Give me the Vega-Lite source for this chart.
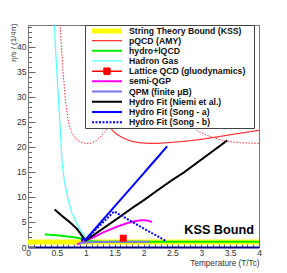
{
  "$schema": "https://vega.github.io/schema/vega-lite/v6.json",
  "width": 231,
  "height": 222,
  "autosize": {"type": "none"},
  "padding": {"left": 28, "top": 25, "right": 28, "bottom": 26},
  "background": "white",
  "config": {
    "view": {"stroke": "#777777", "strokeWidth": 1},
    "font": "Liberation Sans"
  },
  "datasets": {
    "curves": [
      {"series": "String Theory Bound (KSS)", "x": 0, "y": 1},
      {"series": "String Theory Bound (KSS)", "x": 4, "y": 1},

      {"series": "pQCD (AMY)", "x": 1.1, "y": 40},
      {"series": "pQCD (AMY)", "x": 1.2, "y": 33},
      {"series": "pQCD (AMY)", "x": 1.3, "y": 28},
      {"series": "pQCD (AMY)", "x": 1.4, "y": 24.5},
      {"series": "pQCD (AMY)", "x": 1.46, "y": 23.3},
      {"series": "pQCD (AMY)", "x": 1.55, "y": 22.4},
      {"series": "pQCD (AMY)", "x": 1.66, "y": 21.7},
      {"series": "pQCD (AMY)", "x": 1.8, "y": 21.1},
      {"series": "pQCD (AMY)", "x": 1.95, "y": 20.8},
      {"series": "pQCD (AMY)", "x": 2.1, "y": 20.7},
      {"series": "pQCD (AMY)", "x": 2.24, "y": 20.7},
      {"series": "pQCD (AMY)", "x": 2.5, "y": 20.9},
      {"series": "pQCD (AMY)", "x": 2.7, "y": 21.1},
      {"series": "pQCD (AMY)", "x": 3.0, "y": 21.5},
      {"series": "pQCD (AMY)", "x": 3.28, "y": 22},
      {"series": "pQCD (AMY)", "x": 3.6, "y": 22.6},
      {"series": "pQCD (AMY)", "x": 4.0, "y": 23.3},

      {"series": "hydro+lQCD", "x": 0.29, "y": 2.5},
      {"series": "hydro+lQCD", "x": 0.5, "y": 2.35},
      {"series": "hydro+lQCD", "x": 0.68, "y": 2.1},
      {"series": "hydro+lQCD", "x": 0.8, "y": 1.95},
      {"series": "hydro+lQCD", "x": 0.91, "y": 1.7},
      {"series": "hydro+lQCD", "x": 1.0, "y": 1.3},
      {"series": "hydro+lQCD", "x": 1.08, "y": 1.15},
      {"series": "hydro+lQCD", "x": 1.32, "y": 1.05},
      {"series": "hydro+lQCD", "x": 2.0, "y": 1.05},
      {"series": "hydro+lQCD", "x": 3.0, "y": 1.05},
      {"series": "hydro+lQCD", "x": 4.0, "y": 1.05},

      {"series": "Hadron Gas", "x": 0.455, "y": 46},
      {"series": "Hadron Gas", "x": 0.47, "y": 41},
      {"series": "Hadron Gas", "x": 0.49, "y": 37},
      {"series": "Hadron Gas", "x": 0.51, "y": 33},
      {"series": "Hadron Gas", "x": 0.535, "y": 28},
      {"series": "Hadron Gas", "x": 0.56, "y": 23.3},
      {"series": "Hadron Gas", "x": 0.59, "y": 17},
      {"series": "Hadron Gas", "x": 0.63, "y": 13.2},
      {"series": "Hadron Gas", "x": 0.7, "y": 9.2},
      {"series": "Hadron Gas", "x": 0.76, "y": 6.8},
      {"series": "Hadron Gas", "x": 0.83, "y": 5.1},
      {"series": "Hadron Gas", "x": 0.88, "y": 3.9},
      {"series": "Hadron Gas", "x": 0.94, "y": 2.8},
      {"series": "Hadron Gas", "x": 1.0, "y": 1.9},

      {"series": "semi-QGP", "x": 0.85, "y": 0.5},
      {"series": "semi-QGP", "x": 0.93, "y": 0.9},
      {"series": "semi-QGP", "x": 1.02, "y": 1.4},
      {"series": "semi-QGP", "x": 1.15, "y": 2.0},
      {"series": "semi-QGP", "x": 1.26, "y": 2.7},
      {"series": "semi-QGP", "x": 1.4, "y": 3.4},
      {"series": "semi-QGP", "x": 1.55, "y": 4.1},
      {"series": "semi-QGP", "x": 1.7, "y": 4.7},
      {"series": "semi-QGP", "x": 1.83, "y": 5.1},
      {"series": "semi-QGP", "x": 1.95, "y": 5.35},
      {"series": "semi-QGP", "x": 2.0, "y": 5.35},
      {"series": "semi-QGP", "x": 2.08, "y": 5.25},
      {"series": "semi-QGP", "x": 2.15, "y": 5.0},

      {"series": "QPM (finite μB)", "x": 0.9, "y": 0.8},
      {"series": "QPM (finite μB)", "x": 1.0, "y": 0.9},
      {"series": "QPM (finite μB)", "x": 1.2, "y": 1.0},
      {"series": "QPM (finite μB)", "x": 1.6, "y": 1.05},
      {"series": "QPM (finite μB)", "x": 2.1, "y": 1.05},

      {"series": "Hydro Fit (Niemi et al.)", "x": 0.46, "y": 7.5},
      {"series": "Hydro Fit (Niemi et al.)", "x": 0.6, "y": 6.1},
      {"series": "Hydro Fit (Niemi et al.)", "x": 0.73, "y": 4.9},
      {"series": "Hydro Fit (Niemi et al.)", "x": 0.85, "y": 3.6},
      {"series": "Hydro Fit (Niemi et al.)", "x": 0.95, "y": 2.0},
      {"series": "Hydro Fit (Niemi et al.)", "x": 1.0, "y": 1.3},
      {"series": "Hydro Fit (Niemi et al.)", "x": 1.1, "y": 2.1},
      {"series": "Hydro Fit (Niemi et al.)", "x": 1.3, "y": 3.7},
      {"series": "Hydro Fit (Niemi et al.)", "x": 1.55, "y": 5.7},
      {"series": "Hydro Fit (Niemi et al.)", "x": 1.83, "y": 8.0},
      {"series": "Hydro Fit (Niemi et al.)", "x": 2.0, "y": 9.3},
      {"series": "Hydro Fit (Niemi et al.)", "x": 2.24, "y": 11.3},
      {"series": "Hydro Fit (Niemi et al.)", "x": 2.5, "y": 13.4},
      {"series": "Hydro Fit (Niemi et al.)", "x": 2.7, "y": 14.9},
      {"series": "Hydro Fit (Niemi et al.)", "x": 2.9, "y": 16.6},
      {"series": "Hydro Fit (Niemi et al.)", "x": 3.1, "y": 18.3},
      {"series": "Hydro Fit (Niemi et al.)", "x": 3.3, "y": 20.0},
      {"series": "Hydro Fit (Niemi et al.)", "x": 3.45, "y": 21.3},

      {"series": "Hydro Fit (Song - a)", "x": 0.92, "y": 1.7},
      {"series": "Hydro Fit (Song - a)", "x": 1.0, "y": 1.5},
      {"series": "Hydro Fit (Song - a)", "x": 2.41, "y": 20.1},

      {"series": "Hydro Fit (Song - b)", "x": 0.92, "y": 1.3},
      {"series": "Hydro Fit (Song - b)", "x": 1.0, "y": 1.5},
      {"series": "Hydro Fit (Song - b)", "x": 1.49, "y": 7.1},
      {"series": "Hydro Fit (Song - b)", "x": 2.4, "y": 1.1}
    ],
    "dotted": [
      {"x": 0.555, "y": 44.5},
      {"x": 0.6, "y": 36},
      {"x": 0.65, "y": 29},
      {"x": 0.7, "y": 25},
      {"x": 0.75, "y": 23},
      {"x": 0.82, "y": 21.7},
      {"x": 0.9, "y": 21},
      {"x": 1.0, "y": 20.7},
      {"x": 1.08, "y": 20.7},
      {"x": 1.18, "y": 21.2},
      {"x": 1.28, "y": 22.3},
      {"x": 1.36, "y": 23.5},
      {"x": 1.5, "y": 26},
      {"x": 1.8, "y": 29},
      {"x": 2.2, "y": 30},
      {"x": 2.6, "y": 27.5},
      {"x": 2.93, "y": 23.2},
      {"x": 3.1, "y": 22.3},
      {"x": 3.3, "y": 21.5},
      {"x": 3.45, "y": 21.1},
      {"x": 3.7, "y": 20.8},
      {"x": 4.0, "y": 20.7}
    ],
    "lattice": [
      {"series": "Lattice QCD (gluodynamics)", "x": 1.65, "y": 1.75}
    ],
    "label": [
      {"x": 3.31, "y": 2.5, "text": "KSS Bound"}
    ]
  },
  "encoding": {
    "x": {
      "field": "x", "type": "quantitative",
      "scale": {"domain": [0, 4], "nice": false, "zero": false},
      "axis": {
        "title": "Temperature (T/Tc)",
        "values": [0,0.1,0.2,0.3,0.4,0.5,0.6,0.7,0.8,0.9,1,1.1,1.2,1.3,1.4,1.5,1.6,1.7,1.8,1.9,2,2.1,2.2,2.3,2.4,2.5,2.6,2.7,2.8,2.9,3,3.1,3.2,3.3,3.4,3.5,3.6,3.7,3.8,3.9,4],
        "format": "~g",
        "labelExpr": "abs(datum.value*2 - round(datum.value*2)) < 0.001 ? datum.label : ''",
        "tickSize": {"condition": {"test": "abs(datum.value*2 - round(datum.value*2)) < 0.001", "value": -7}, "value": -3.5},
        "tickColor": "#666666",
        "domainColor": "#000080",
        "domainWidth": 2,
        "grid": false,
        "labelFont": "Liberation Sans",
        "labelFontSize": 8.5,
        "labelColor": "#333333",
        "labelPadding": 8,
        "labelFlush": false,
        "labelOverlap": false,
        "titleFont": "Liberation Sans",
        "titleFontSize": 8.2,
        "titleFontWeight": "normal",
        "titleColor": "#333333",
        "titleAnchor": "end",
        "titleAlign": "right",
        "titleBaseline": "alphabetic",
        "titleX": 231,
        "titleY": 18
      }
    },
    "y": {
      "field": "y", "type": "quantitative",
      "scale": {"domain": [0, 44.34], "nice": false, "zero": false},
      "axis": {
        "title": "η/s / (1/4π)",
        "values": [0,1,2,3,4,5,6,7,8,9,10,11,12,13,14,15,16,17,18,19,20,21,22,23,24,25,26,27,28,29,30,31,32,33,34,35,36,37,38,39,40,41,42,43,44],
        "format": "d",
        "labelExpr": "datum.value % 5 === 0 ? datum.label : ''",
        "tickSize": {"condition": {"test": "datum.value % 5 === 0", "value": -7}, "value": -3.5},
        "tickColor": "#666666",
        "domainColor": "#777777",
        "grid": false,
        "labelFont": "Liberation Sans",
        "labelFontSize": 8.5,
        "labelColor": "#333333",
        "labelPadding": 9,
        "labelFlush": false,
        "labelOverlap": false,
        "titleFont": "Liberation Sans",
        "titleFontSize": 7.8,
        "titleFontWeight": "normal",
        "titleColor": "#333333",
        "titleAnchor": "end",
        "titleAngle": -90,
        "titleAlign": "right",
        "titleBaseline": "middle",
        "titleX": -15,
        "titleY": -2
      }
    }
  },
  "layer": [
    {
      "data": {"name": "curves"},
      "mark": {"type": "line", "clip": true},
      "encoding": {
        "color": {
          "field": "series", "type": "nominal",
          "scale": {
            "domain": ["String Theory Bound (KSS)", "pQCD (AMY)", "hydro+lQCD", "Hadron Gas", "Lattice QCD (gluodynamics)", "semi-QGP", "QPM (finite μB)", "Hydro Fit (Niemi et al.)", "Hydro Fit (Song - a)", "Hydro Fit (Song - b)"],
            "range": ["#ffff00", "#ff3333", "#00ee00", "#55ffff", "#ff0000", "#ff00ff", "#7777ee", "#000000", "#0000ff", "#0000ff"]
          },
          "legend": {
            "title": " ",
            "titleOrient": "right",
            "titlePadding": 8,
            "titleFontSize": 8,
            "orient": "none",
            "legendX": 57,
            "legendY": 0,
            "fillColor": "white",
            "strokeColor": "#444444",
            "padding": 1,
            "symbolSize": 25,
            "symbolType": "M-6,0H6",
            "symbolOffset": 16,
            "labelFont": "Liberation Sans",
            "labelFontSize": 8.7,
            "labelFontWeight": "bold",
            "labelColor": "#111111",
            "labelLimit": 300,
            "labelOffset": 17,
            "rowPadding": 0.2,
            "encode": {
              "symbols": {
                "update": {
                  "shape": {"signal": "datum.value === 'Lattice QCD (gluodynamics)' ? 'M-6,0H6M-1.2,-1.2H1.2V1.2H-1.2Z' : datum.value === 'String Theory Bound (KSS)' ? 'M-6,-1H6V1H-6Z' : 'M-6,0H6'"},
                  "fill": {"signal": "datum.value === 'Lattice QCD (gluodynamics)' ? '#ff0000' : datum.value === 'String Theory Bound (KSS)' ? '#ffff00' : 'transparent'"},
                  "strokeOpacity": {"signal": "datum.value === 'String Theory Bound (KSS)' ? 0 : 1"},
                  "strokeJoin": {"value": "round"},
                  "strokeWidth": {"signal": "datum.value === 'String Theory Bound (KSS)' ? 0 : (datum.value === 'pQCD (AMY)' || datum.value === 'Hadron Gas' || datum.value === 'Lattice QCD (gluodynamics)') ? 1.2 : 2"}
                }
              }
            }
          }
        },
        "strokeDash": {
          "field": "series", "type": "nominal",
          "scale": {
            "domain": ["String Theory Bound (KSS)", "pQCD (AMY)", "hydro+lQCD", "Hadron Gas", "Lattice QCD (gluodynamics)", "semi-QGP", "QPM (finite μB)", "Hydro Fit (Niemi et al.)", "Hydro Fit (Song - a)", "Hydro Fit (Song - b)"],
            "range": [[1,0],[1,0],[1,0],[1,0],[1,0],[1,0],[1,0],[1,0],[1,0],[2,1.5]]
          },
          "legend": {"title": " "}
        },
        "strokeWidth": {
          "field": "series", "type": "nominal",
          "scale": {
            "type": "ordinal",
            "domain": ["String Theory Bound (KSS)", "pQCD (AMY)", "hydro+lQCD", "Hadron Gas", "Lattice QCD (gluodynamics)", "semi-QGP", "QPM (finite μB)", "Hydro Fit (Niemi et al.)", "Hydro Fit (Song - a)", "Hydro Fit (Song - b)"],
            "range": [5, 1.2, 2, 1.2, 1.5, 2, 2, 2, 2, 2]
          },
          "legend": {"title": " "}
        },
        "order": {"field": "x", "type": "quantitative"}
      }
    },
    {
      "data": {"name": "dotted"},
      "mark": {"type": "line", "clip": true, "color": "#ff3333", "strokeWidth": 1, "strokeDash": [1.5, 1.5]},
      "encoding": {}
    },
    {
      "data": {"name": "lattice"},
      "mark": {"type": "point", "shape": "square", "filled": true, "size": 49, "opacity": 1, "color": "#ff0000"},
      "encoding": {}
    },
    {
      "data": {"name": "label"},
      "mark": {"type": "text", "font": "Liberation Sans", "fontSize": 12.7, "fontWeight": "bold", "align": "center", "baseline": "alphabetic", "color": "#000000"},
      "encoding": {"text": {"field": "text"}}
    }
  ]
}
